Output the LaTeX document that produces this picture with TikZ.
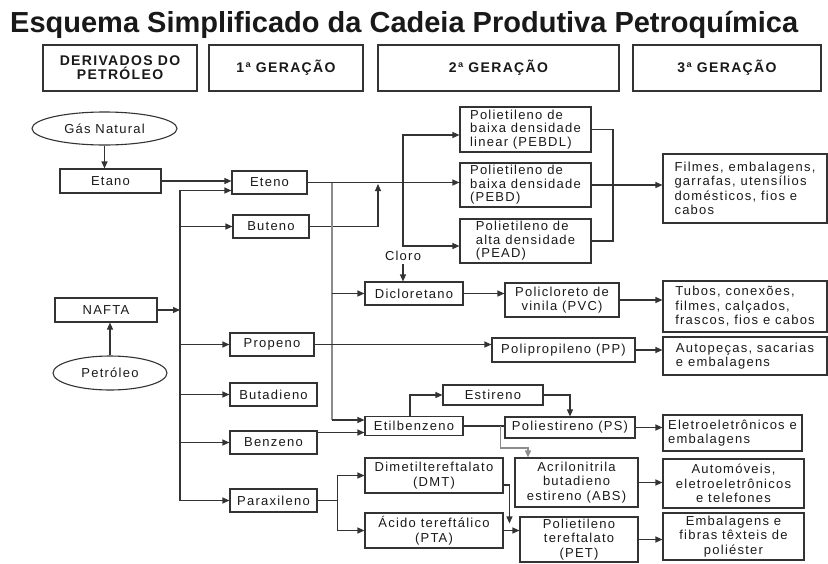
\documentclass[tikz,border=0pt]{standalone}
\usepackage{fontspec}
\setmainfont{Liberation Sans}
\newfontfamily\spacedfont[LetterSpace=9.5]{Liberation Sans}
\usetikzlibrary{shapes.geometric, arrows.meta}

\tikzset{
  every node/.style={font=\spacedfont\fontsize{13}{13.5}\selectfont, text=black!90},
  box/.style={draw=black!80, line width=1.1pt, inner xsep=2pt, inner ysep=1pt},
  lbox/.style={box, font=\spacedfont\fontsize{13}{14.5}\selectfont},
  oval/.style={box, ellipse},
  hbox/.style={box, font=\spacedfont\bfseries\fontsize{14}{14}\selectfont, align=center},
  wh/.style 2 args={minimum width=#1pt, minimum height=#2pt},
  conn/.style={draw=black!80, line width=1.1pt},
  arr/.style={conn, -{Triangle[length=7pt,width=6pt]}},
  gline/.style={draw=black!45, line width=1.5pt},
}

\begin{document}
\begin{tikzpicture}[x=1pt, y=-1pt]
\useasboundingbox (0,0) rectangle (828,563);

% titulo e cabecalhos
\node[anchor=base west, inner sep=0pt, font=\bfseries\fontsize{29}{32}\selectfont, text=black!90] (titulo) at (10,32) {Esquema Simplificado da Cadeia Produtiva Petroquímica};
\node[hbox, wh={154}{46}] (derivados) at (120,68) {DERIVADOS DO\\PETRÓLEO};
\node[hbox, wh={154}{46}] (ger1) at (286,68) {1ª GERAÇÃO};
\node[hbox, wh={241}{46}] (ger2) at (498.5,68) {2ª GERAÇÃO};
\node[hbox, wh={188}{46}] (ger3) at (727,68) {3ª GERAÇÃO};

% derivados do petroleo
\node[oval, wh={145}{33}] (gas) at (104.5,128.5) {Gás Natural};
\node[box, wh={101}{24}] (etano) at (110.5,181) {Etano};
\node[box, wh={102}{24}] (nafta) at (106,310) {NAFTA};
\node[oval, wh={114}{34}] (petroleo) at (110,373) {Petróleo};

% 1a geracao
\node[box, wh={75}{23}] (eteno) at (269.5,182.5) {Eteno};
\node[box, wh={76}{23}] (buteno) at (271,226.5) {Buteno};
\node[box, wh={84}{23}] (propeno) at (272,344.5) {Propeno};
\node[box, wh={87}{23}] (butadieno) at (273.5,394.5) {Butadieno};
\node[box, wh={87}{23}] (benzeno) at (273.5,442.5) {Benzeno};
\node[box, wh={87}{23}] (paraxileno) at (273.5,500.5) {Paraxileno};

% 2a geracao
\node[box, wh={131}{45}, align=left] (pebdl) at (525.5,129.5) {Polietileno de\\baixa densidade\\linear (PEBDL)};
\node[box, wh={131}{44}, align=left] (pebd) at (525.5,185) {Polietileno de\\baixa densidade\\(PEBD)};
\node[box, wh={131}{44}, align=left] (pead) at (525.5,241) {Polietileno de\\alta densidade\\(PEAD)};
\node (cloro) at (403,256) {Cloro};
\node[box, wh={98}{23}] (dicloro) at (414,293.5) {Dicloretano};
\node[lbox, wh={114}{34}, align=center] (pvc) at (562,300) {Policloreto de\\vinila (PVC)};
\node[box, wh={143}{24}] (pp) at (563.5,350) {Polipropileno (PP)};
\node[box, wh={100}{20}] (estireno) at (493,395) {Estireno};
\node[box, wh={98}{19}] (etilb) at (414,426) {Etilbenzeno};
\node[box, wh={130}{21}] (ps) at (570,427.5) {Poliestireno (PS)};
\node[lbox, wh={138}{35}, align=center] (dmt) at (434,475.5) {Dimetiltereftalato\\(DMT)};
\node[lbox, wh={138}{35}, align=center] (pta) at (434,530.5) {Ácido tereftálico\\(PTA)};
\node[lbox, wh={123}{49}, align=center] (abs) at (576.5,482.5) {Acrilonitrila\\butadieno\\estireno (ABS)};
\node[lbox, wh={118}{45}, align=center] (pet) at (579,539.5) {Polietileno\\tereftalato\\(PET)};

% 3a geracao
\node[lbox, wh={164}{69}, align=left] (filmes) at (745,188.5) {Filmes, embalagens,\\garrafas, utensílios\\domésticos, fios e\\cabos};
\node[lbox, wh={164}{51}, align=left] (tubos) at (745,306.5) {Tubos, conexões,\\filmes, calçados,\\frascos, fios e cabos};
\node[lbox, wh={164}{38}, align=left] (autopecas) at (745,356) {Autopeças, sacarias\\e embalagens};
\node[lbox, wh={139}{36}, align=left] (eletro) at (732.5,433) {Eletroeletrônicos e\\embalagens};
\node[lbox, wh={141}{49}, align=center] (auto) at (733.5,483.5) {Automóveis,\\eletroeletrônicos\\e telefones};
\node[lbox, wh={141}{47}, align=center] (embal) at (733.5,536.5) {Embalagens e\\fibras têxteis de\\poliéster};

% conexoes
\coordinate (tronco) at (180,0);
\coordinate (divisa) at (403,0);
\coordinate (cinza) at (332,0);
\coordinate (uniao) at (613,185);
\coordinate (subida) at (378,184);
\coordinate (eteno2) at ([yshift=-8pt]eteno.west);
\coordinate (cin) at ([yshift=6pt]etilb.west);
\coordinate (bz) at ([yshift=10pt]benzeno.east);
\coordinate (ramo) at ([xshift=37pt]etilb.east);
\coordinate (px) at ([xshift=20pt]paraxileno.east);

\draw[arr] (gas.south) -- (gas.south |- etano.north);
\draw[arr] (petroleo.north) -- (petroleo.north |- nafta.south);
\draw[arr] (etano.east) -- (etano.east -| eteno.west);
\draw[arr] (nafta.east) -- (nafta.east -| tronco);
\draw[arr] (paraxileno.west -| tronco) |- (eteno2);
\foreach \n in {buteno, propeno, butadieno, benzeno, paraxileno}
  \draw[arr] (\n.west -| tronco) -- (\n.west);
\draw[arr] (buteno.east) -| (subida);

\draw[arr] (eteno.east) -- (eteno.east -| pebd.west);
\draw[arr] (divisa |- eteno.east) |- ([yshift=-5.5pt]pebdl.west);
\draw[arr] (divisa |- eteno.east) |- ([yshift=-5pt]pead.west);
\draw[conn] (pebdl.east) -| (uniao) |- (pead.east);
\draw[arr] (pebd.east) -- (pebd.east -| filmes.west);

\draw[gline] (cinza |- eteno.east) -- (cinza |- cin);
\draw[arr] (cinza |- cin) -- (cin);
\draw[arr] (cinza |- dicloro.west) -- (dicloro.west);
\draw[arr] (cloro.south) -- (cloro.south |- dicloro.north);
\draw[arr] (dicloro.east) -- (dicloro.east -| pvc.west);
\draw[arr] (pvc.east) -- (pvc.east -| tubos.west);
\draw[arr] (propeno.east) -- (propeno.east -| pp.west);
\draw[arr] (pp.east) -- (pp.east -| autopecas.west);

\draw[arr] (bz) -- (bz -| etilb.west);
\draw[arr] ([xshift=-4pt]etilb.north) |- (estireno.west);
\draw[arr] (estireno.east) -| (ps.north);
\draw[conn] (etilb.east) -- (etilb.east -| ps.west);
\draw[gline, -{Triangle[length=7pt,width=6pt]}] (ramo) -- ++(0,22) -| ([xshift=-48.5pt]abs.north);
\draw[arr] (ps.east) -- (ps.east -| eletro.west);
\draw[arr] (abs.east) -- (abs.east -| auto.west);

\draw[conn] (paraxileno.east) -- (px);
\draw[arr] (px) |- (dmt.west);
\draw[arr] (px) |- (pta.west);
\draw[arr] ([yshift=-9.5pt]dmt.east) -| ([xshift=-10pt,yshift=-7pt]pet.north west);
\draw[arr] (pta.east) -- ([yshift=9pt]pet.west);
\draw[arr] (pet.east) -- (pet.east -| embal.west);
\end{tikzpicture}
\end{document}
